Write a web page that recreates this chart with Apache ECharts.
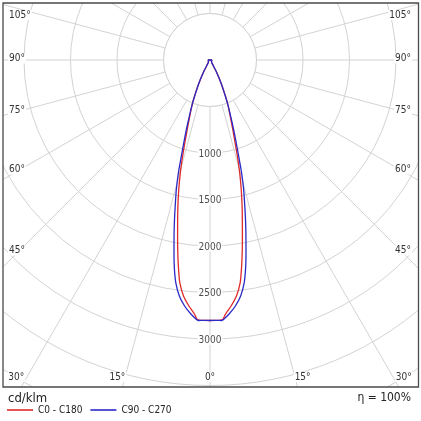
<!DOCTYPE html>
<html><head><meta charset="utf-8">
<script src="https://cdn.jsdelivr.net/npm/echarts@6/dist/echarts.min.js"></script>
<style>html,body{margin:0;padding:0;background:#fff}#c{width:421px;height:421px}</style>
</head><body><div id="c"></div>
<script>
// ---- data (angle from nadir in degrees, intensity in cd/klm) ----
const c0Angles  = [0, 1.3, 2.8, 3.5, 4.9, 6.4, 7.7, 8.5, 9.3, 10.2, 11.3, 12.4, 13.6, 14.8, 15.9, 17.2, 19.0, 22.0, 24.5, 26.3, 28.5, 30.5, 40, 60, 90, 180];
const c0Values  = [2801, 2801, 2794, 2736, 2655, 2554, 2419, 2283, 2136, 1967, 1776, 1607, 1427, 1245, 1073, 889, 705, 505, 333, 237, 140, 65, 25, 20, 20, 0];
const c90Angles = [0, 1.3, 2.6, 3.1, 4.3, 5.9, 7.4, 8.7, 9.6, 10.4, 11.3, 12.4, 13.4, 14.6, 15.7, 16.6, 17.9, 19.5, 22.0, 24.5, 26.3, 28.5, 30.5, 40, 60, 90, 180];
const c90Values = [2801, 2801, 2804, 2789, 2739, 2659, 2559, 2426, 2290, 2143, 1974, 1783, 1614, 1434, 1251, 1077, 893, 710, 505, 333, 237, 140, 65, 25, 20, 20, 0];
const seriesNames = ['C0 - C180', 'C90 - C270'];
const radiusTicks = [1000, 1500, 2000, 2500, 3000];
const sideAngleTicks = [45, 60, 75, 90, 105];
const bottomAngleTicks = [0, 15, 30];
const unitLabel = 'cd/klm';
const efficiencyLabel = 'η = 100%';

// ---- layout ----
const CX = 210, CY = 60, RMAX = 4500, PX_PER_CD = 0.093;
const FL = 3, FT = 3, FR = 418.5, FB = 387;
const GRID = '#d3d3d3';
const FONT = "'DejaVu Sans Condensed', 'Liberation Sans', sans-serif";

function mirrored(angles, values) {
  const out = [];
  for (let i = angles.length - 1; i >= 0; i--) out.push([values[i], -angles[i]]);
  for (let i = 1; i < angles.length; i++) out.push([values[i], angles[i]]);
  return out;
}

const chart = echarts.init(document.getElementById('c'), null, {renderer: 'canvas'});

const labelEls = [];
const lblStyle = (txt, x, y, align) => ({
  type: 'text', z: 52, x: x, y: y,
  style: {text: txt, fill: '#333', font: '10px ' + FONT, align: align, verticalAlign: 'middle',
          backgroundColor: '#fff', padding: [0, 1]}
});
sideAngleTicks.forEach(a => {
  const r = a * Math.PI / 180;
  let y = CY + (CX - 18) / Math.tan(r) - 1.5;
  if (y < 15) y = 15;
  labelEls.push(lblStyle(a + '°', 8, y, 'left'));
  labelEls.push(lblStyle(a + '°', 412, y, 'right'));
});
bottomAngleTicks.forEach(a => {
  const r = a * Math.PI / 180;
  const d = a === 0 ? 0 : (FB - CY) * Math.tan(r) + 5;
  labelEls.push(lblStyle(a + '°', CX - d, 377, 'center'));
  if (a !== 0) labelEls.push(lblStyle(a + '°', CX + d, 377, 'center'));
});

chart.setOption({
  animation: false,
  backgroundColor: '#fff',
  polar: {center: [CX, CY], radius: RMAX * PX_PER_CD},
  angleAxis: {
    type: 'value', min: -180, max: 180, interval: 15, startAngle: 90, clockwise: true,
    axisLine: {show: false}, axisTick: {show: false}, axisLabel: {show: false},
    splitLine: {show: true, lineStyle: {color: GRID, width: 1}}
  },
  radiusAxis: {
    type: 'value', min: 0, max: RMAX, interval: 500,
    axisLine: {show: false}, axisTick: {show: false}, axisLabel: {show: false},
    splitLine: {show: true, lineStyle: {color: GRID, width: 1}}
  },
  legend: {
    left: 7, top: 405, padding: 0, z: 60, icon: 'rect', itemWidth: 26, itemHeight: 1.6, itemGap: 8,
    textStyle: {fontSize: 10, color: '#222', fontFamily: FONT},
    data: seriesNames
  },
  series: [
    {
      name: seriesNames[0], type: 'line', coordinateSystem: 'polar', z: 5,
      data: mirrored(c0Angles, c0Values), showSymbol: false, smooth: 0.25,
      lineStyle: {color: '#e02a2a', width: 1.3}, itemStyle: {color: '#e02a2a'}
    },
    {
      name: seriesNames[1], type: 'line', coordinateSystem: 'polar', z: 6,
      data: mirrored(c90Angles, c90Values), showSymbol: false, smooth: 0.25,
      lineStyle: {color: '#2a2ac8', width: 1.3}, itemStyle: {color: '#2a2ac8'}
    },
    {
      type: 'scatter', coordinateSystem: 'polar', z: 7, symbolSize: 1, silent: true,
      itemStyle: {color: 'transparent'},
      data: radiusTicks.map(v => [v, 0]),
      label: {show: true, position: 'inside', offset: [0, 1], formatter: p => String(p.value[0]),
              fontSize: 10, color: '#222', fontFamily: FONT, backgroundColor: '#fff', padding: [0, 1]}
    }
  ],
  graphic: {elements: [
    {type: 'circle', z: 1, shape: {cx: CX, cy: CY, r: 500 * PX_PER_CD},
     style: {fill: '#fff', stroke: GRID, lineWidth: 1}},
    {type: 'rect', z: 50, shape: {x: 0, y: 0, width: 421, height: FT}, style: {fill: '#fff'}},
    {type: 'rect', z: 50, shape: {x: 0, y: 0, width: FL, height: 421}, style: {fill: '#fff'}},
    {type: 'rect', z: 50, shape: {x: FR, y: 0, width: 421 - FR, height: 421}, style: {fill: '#fff'}},
    {type: 'rect', z: 50, shape: {x: 0, y: FB, width: 421, height: 421 - FB}, style: {fill: '#fff'}},
    {type: 'rect', z: 51, shape: {x: FL, y: FT, width: FR - FL, height: FB - FT},
     style: {fill: 'none', stroke: '#4a4a4a', lineWidth: 1.3}},
    {type: 'text', z: 60, x: 8, y: 399,
     style: {text: unitLabel, fill: '#222', font: '13px ' + FONT, verticalAlign: 'middle'}},
    {type: 'text', z: 60, x: 411, y: 398,
     style: {text: efficiencyLabel, fill: '#222', font: '12px ' + FONT, align: 'right', verticalAlign: 'middle'}},
    ...labelEls
  ]}
});
</script>
</body></html>
